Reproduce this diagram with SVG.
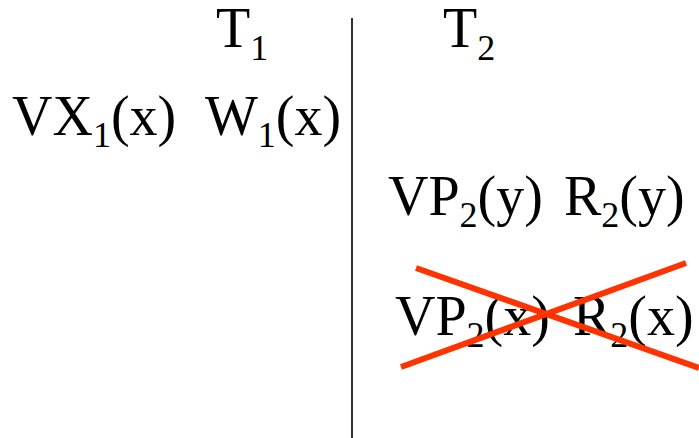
<svg xmlns="http://www.w3.org/2000/svg" width="699" height="438" viewBox="0 0 699 438">
<rect width="699" height="438" fill="#fff"/>
<g id="divider"><line x1="352" y1="18" x2="352" y2="438" stroke="#333" stroke-width="2"/></g>
<g id="T1"><text x="216" y="47" font-size="56" font-family="Liberation Serif">T<tspan font-size="36" dy="13">1</tspan></text></g>
<g id="T2"><text x="443" y="47" font-size="56" font-family="Liberation Serif">T<tspan font-size="36" dy="13">2</tspan></text></g>
<g id="VX1"><text x="12" y="135" font-size="56" font-family="Liberation Serif">VX<tspan font-size="36" dy="12">1</tspan><tspan dy="-12">(x)</tspan></text></g>
<g id="W1"><text x="205" y="135" font-size="56" font-family="Liberation Serif">W<tspan font-size="36" dy="12">1</tspan><tspan dy="-12">(x)</tspan></text></g>
<g id="VP2y"><text x="388" y="215" font-size="56" font-family="Liberation Serif">VP<tspan font-size="36" dy="12">2</tspan><tspan dy="-12">(y)</tspan></text></g>
<g id="R2y"><text x="564" y="215" font-size="56" font-family="Liberation Serif">R<tspan font-size="36" dy="12">2</tspan><tspan dy="-12">(y)</tspan></text></g>
<g id="VP2x"><text x="395" y="335" font-size="56" font-family="Liberation Serif">VP<tspan font-size="36" dy="12">2</tspan><tspan dy="-12">(x)</tspan></text></g>
<g id="R2x"><text x="573" y="335" font-size="56" font-family="Liberation Serif">R<tspan font-size="36" dy="12">2</tspan><tspan dy="-12">(x)</tspan></text></g>
<g id="cross" stroke="#FF3300" stroke-width="6">
<line x1="416" y1="268" x2="699" y2="368"/>
<line x1="401" y1="367" x2="686" y2="263"/>
</g>
</svg>
